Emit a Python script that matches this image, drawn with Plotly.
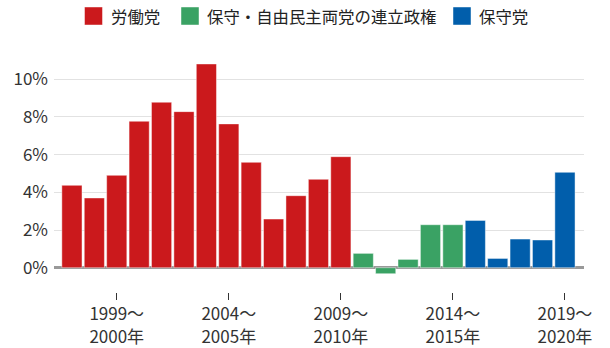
import plotly.graph_objects as go

# fiscal-year start (e.g. 1997 -> 1997～1998年)
start_years = list(range(1997, 2020))
values = [4.37, 3.70, 4.90, 7.77, 8.78, 8.28, 10.81, 7.63, 5.59, 2.58, 3.82,
          4.69, 5.89, 0.76, -0.32, 0.44, 2.28, 2.28, 2.51, 0.49, 1.52, 1.47, 5.06]
parties = ["労働党"] * 13 + ["保守・自由民主両党の連立政権"] * 5 + ["保守党"] * 5
party_order = ["労働党", "保守・自由民主両党の連立政権", "保守党"]
party_colors = {"労働党": "#CB191C", "保守・自由民主両党の連立政権": "#3AA264", "保守党": "#015EAB"}
tick_years = [1999, 2004, 2009, 2014, 2019]
y_ticks = [0, 2, 4, 6, 8, 10]

cats = [f"{y}～{y+1}年" for y in start_years]
ticktext = [f"{y}～<br>{y+1}年" for y in tick_years]
tickvals = [f"{y}～{y+1}年" for y in tick_years]
y_ticktext = [f"{v}%" for v in y_ticks]

W, H = 610, 348
ML, MR, MT, MB = 54, 26, 60, 56
PW, PH = W - ML - MR, H - MT - MB

def px_to_paper_x(px):
    return (px - ML) / PW

def px_to_paper_y(py):
    return (H - MB - py) / PH

# manual legend layout (pixel left of square, in figure pixels)
legend_square_left = [84.5, 181, 453]
LEG_SQ = 18
LEG_Y = 16

FONT = "Noto Sans CJK JP"
fig = go.Figure()
for p in party_order:
    xs = [c for c, pp in zip(cats, parties) if pp == p]
    ys = [v for v, pp in zip(values, parties) if pp == p]
    fig.add_trace(go.Bar(x=xs, y=ys, name=p, showlegend=False,
                         marker=dict(color=party_colors[p],
                                     line=dict(color="rgba(255,255,255,0.45)", width=1))))

shapes, annotations = [], []
for p, left in zip(party_order, legend_square_left):
    shapes.append(dict(type="rect", xref="paper", yref="paper",
                       x0=px_to_paper_x(left), x1=px_to_paper_x(left + LEG_SQ),
                       y0=px_to_paper_y(LEG_Y + LEG_SQ / 2), y1=px_to_paper_y(LEG_Y - LEG_SQ / 2),
                       fillcolor=party_colors[p],
                       line=dict(color="rgba(255,255,255,0.45)", width=1)))
    annotations.append(dict(text=p, xref="paper", yref="paper",
                            x=px_to_paper_x(left + LEG_SQ + 6), y=px_to_paper_y(LEG_Y),
                            xanchor="left", yanchor="middle", showarrow=False,
                            font=dict(size=16.4, color="#222", family=FONT)))

fig.update_layout(
    width=W, height=H,
    margin=dict(l=ML, r=MR, t=MT, b=MB),
    plot_bgcolor="white", paper_bgcolor="white",
    bargap=0.1, showlegend=False,
    font=dict(family=FONT, size=17, color="#333"),
    shapes=shapes, annotations=annotations,
    xaxis=dict(type="category", categoryorder="array", categoryarray=cats,
               range=[-0.8, 22.85], tickvals=tickvals, ticktext=ticktext,
               showgrid=False, zeroline=False, showline=False,
               ticks="outside", ticklen=7, tickwidth=1.3, tickcolor="#333",
               automargin=False,
               tickfont=dict(size=17, color="#333")),
    yaxis=dict(range=[-1.29, 11.02], tickvals=y_ticks, ticktext=y_ticktext,
               showgrid=True, gridcolor="#e2e2e2", gridwidth=1,
               zeroline=True, zerolinecolor="#999", zerolinewidth=2.5,
               showline=False, ticks="", automargin=False, ticklabelstandoff=5,
               tickfont=dict(size=17, color="#333")),
)
fig.write_html("out.html")
